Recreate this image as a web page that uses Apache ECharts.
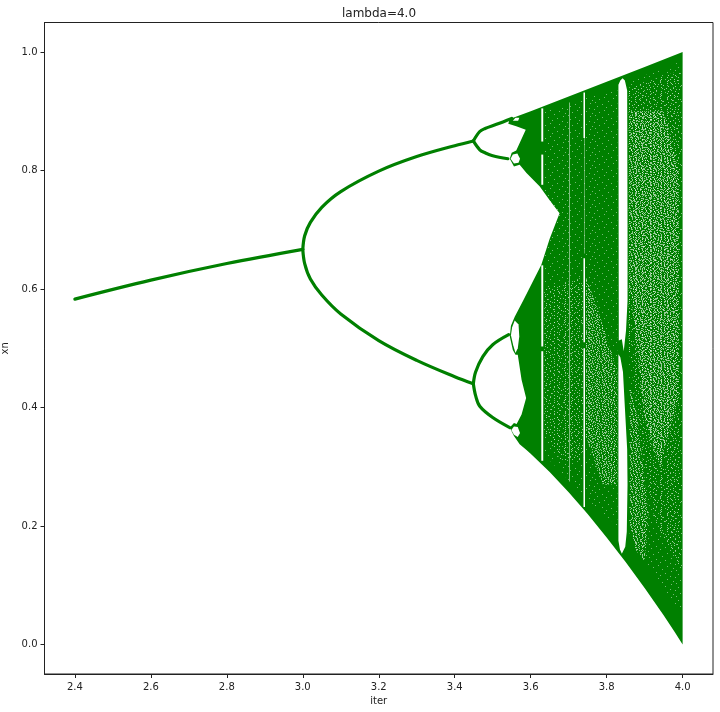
<!DOCTYPE html>
<html>
<head>
<meta charset="utf-8">
<style>html,body{margin:0;padding:0;background:#fff}#c{width:720px;height:712px}</style>
<script src="https://cdn.jsdelivr.net/npm/echarts@6/dist/echarts.min.js"></script>
</head>
<body>
<div id="c"></div>
<script>
// Values: [iter, xn]
const xTicks = [2.4, 2.6, 2.8, 3.0, 3.2, 3.4, 3.6, 3.8, 4.0];
const yTicks = [0, 0.2, 0.4, 0.6, 0.8, 1.0];

const stem = [[2.4,.583],[2.6,.615],[2.8,.643],[3.0,.667]];
const forkUpper = [[3.0,.667],[3.005,.69],[3.02,.7125],[3.05,.738],[3.1,.7645],[3.2,.799],[3.3,.8236],[3.4,.842],[3.449,.85]];
const forkLower = [[3.0,.667],[3.005,.643],[3.02,.617],[3.05,.59],[3.1,.558],[3.2,.513],[3.3,.4796],[3.4,.452],[3.449,.44]];
const lensTopOuter = [[3.449,.85],[3.466,.866],[3.48,.871],[3.51,.878],[3.55,.888]];
const lensTopInner = [[3.449,.85],[3.466,.835],[3.48,.83],[3.5,.825],[3.54,.82]];
const lensLowUpper = [[3.449,.44],[3.455,.46],[3.474,.486],[3.5,.506],[3.542,.523]];
const lensLowLower = [[3.449,.44],[3.455,.42],[3.466,.402],[3.5,.383],[3.545,.366]];

// Outline of the chaotic region
const chaosOutline = [
  [3.545,.887],[3.6,.9],[3.7,.925],[3.8,.95],[3.9,.975],[4.0,1.0],[4.0,0],
  [3.98,.02],[3.95,.049],[3.9,.095],[3.85,.139],[3.8,.1805],[3.75,.22],[3.7,.257],[3.65,.291],[3.6,.322],
  [3.589,.328],[3.571,.338],[3.556,.352],[3.545,.366],[3.556,.374],[3.563,.372],[3.576,.388],[3.588,.416],
  [3.576,.447],[3.566,.489],[3.56,.489],[3.553,.497],[3.545,.52],[3.548,.538],[3.558,.553],[3.58,.58],[3.628,.641],[3.65,.685],
  [3.676,.728],[3.65,.75],[3.624,.773],[3.589,.796],[3.571,.81],[3.556,.807],[3.545,.82],[3.55,.83],[3.562,.834],
  [3.587,.869],[3.562,.875],[3.541,.879]
];

// White holes and periodic windows
const holeTop = [[3.553,.884],[3.56,.889],[3.57,.889],[3.567,.884]];
const holeUpper = [[3.547,.82],[3.553,.827],[3.565,.829],[3.572,.82],[3.568,.813],[3.556,.812]];
const holeMidUpper = [[3.548,.522],[3.551,.535],[3.558,.547],[3.568,.54],[3.57,.52],[3.566,.5],[3.56,.492],[3.554,.505]];
const holeMidLower = [[3.549,.362],[3.556,.368],[3.566,.367],[3.572,.357],[3.566,.35],[3.556,.354]];
const win363a = [[3.628,.905],[3.633,.905],[3.633,.849],[3.628,.849]];
const win363b = [[3.628,.827],[3.633,.827],[3.633,.776],[3.628,.776]];
const win363c = [[3.628,.64],[3.633,.64],[3.633,.503],[3.628,.503]];
const win363d = [[3.628,.495],[3.633,.495],[3.633,.31],[3.628,.31]];
const win374a = [[3.739,.932],[3.743,.932],[3.743,.855],[3.739,.855]];
const win374b = [[3.7405,.855],[3.742,.855],[3.742,.66],[3.7405,.66]];
const win374c = [[3.739,.652],[3.743,.652],[3.743,.51],[3.739,.51]];
const win374d = [[3.739,.5],[3.743,.5],[3.743,.232],[3.739,.232]];
const win370 = [[3.7015,.915],[3.7035,.915],[3.7035,.275],[3.7015,.275]];
const win384a = [[3.831,.945],[3.836,.952],[3.842,.956],[3.848,.952],[3.854,.935],[3.855,.7],[3.855,.58],[3.851,.53],[3.845,.495],[3.84,.515],[3.832,.513]];
const win384b = [[3.831,.49],[3.836,.485],[3.843,.46],[3.848,.4],[3.854,.33],[3.855,.27],[3.853,.19],[3.849,.165],[3.84,.153],[3.835,.16],[3.831,.175]];

// Areas where the points thin out
const thinRightAll = [[3.858,.95],[3.998,.985],[3.998,.05],[3.95,.09],[3.9,.14],[3.858,.19]];
const thinRight = [[3.858,.94],[3.998,.97],[3.998,.12],[3.97,.16],[3.93,.2],[3.9,.3],[3.875,.42],[3.858,.5]];
const thinRightHeavy = [[3.862,.9],[3.95,.9],[3.99,.8],[3.99,.42],[3.94,.3],[3.9,.38],[3.88,.5],[3.862,.6]];
const thinWedgeLow = [[3.862,.44],[3.882,.38],[3.91,.22],[3.9,.14],[3.875,.16],[3.862,.2]];
const thinCentreAll = [[3.636,.9],[3.828,.94],[3.828,.2],[3.74,.25],[3.636,.32]];
const thinDiagonal = [[3.746,.62],[3.78,.56],[3.828,.46],[3.828,.27],[3.79,.27],[3.746,.35]];
const thinMiddle = [[3.636,.6],[3.738,.62],[3.738,.31],[3.68,.31],[3.636,.36]];

const GREEN = '#008000';
const regionList = [
  [chaosOutline, 'solid'],
  [thinCentreAll, 'faint'], [thinRightAll, 'faint'],
  [thinMiddle, 'light'], [thinDiagonal, 'light'], [thinDiagonal, 'coarse'],
  [thinRight, 'light'], [thinRightHeavy, 'alt'], [thinRightHeavy, 'coarse'], [thinWedgeLow, 'alt'], [thinWedgeLow, 'coarse'],
  [holeTop, 'white'], [holeUpper, 'white'], [holeMidUpper, 'white'], [holeMidLower, 'white'],
  [win363a, 'white'], [win363b, 'white'], [win363c, 'white'], [win363d, 'white'],
  [win370, 'pale'],
  [win374a, 'white'], [win374b, 'pale'], [win374c, 'white'], [win374d, 'white'],
  [win384a, 'white'], [win384b, 'white']
];

// Hand-drawn speckle textures (style only), '#' = white pixel
const tileHeavy = [
  '#...#.....#..#.....#...#....#.#.',
  '..#....#........#.....#..#......',
  '.....#....#..#.....#......#...#.',
  '#..#...#.....#..#.....#.......#.',
  '.......#..#.....#..#.....#.#....',
  '..#.#.....#..#........#.....#..#',
  '#.....#.......#..#..#....#......',
  '...#.....#.#.....#......#...#.#.',
  '.#....#.....#..#....#.......#...',
  '.....#..#.......#.#...#.#.....#.',
  '#..#.....#..#.........#....#....',
  '......#.....#...#..#.....#...#..',
  '..#.#....#.....#.....#.#......#.',
  '#.......#..#.#....#......#..#...',
  '...#..#.........#...#.......#..#',
  '.#.......#.#..#.....#..#.#......'
];
const tileLight = [
  '.....#..............#.......#...',
  '..#..........#.............#....',
  '..........#.........#...........',
  '......#.......#............#...#',
  '#..............#.....#..........',
  '.........#.............#........',
  '...#.............#..........#...',
  '..........#..........#..........',
  '.#............#...........#.....',
  '.......#................#.....#.',
  '................#...............',
  '...#......#..........#......#...',
  '.............#..................',
  '#.....#..............#.....#....',
  '..........#....#................',
  '..#..................#........#.'
];
const tileFaint = [
  '........#.......................',
  '.................#..............',
  '...#.........................#..',
  '............#...................',
  '......................#.........',
  '#...............................',
  '..........#.................#...',
  '...................#............',
  '.....#..........................',
  '.........................#......',
  '..............#.................',
  '.#..............................',
  '.......................#........',
  '.........#...................#..',
  '..................#.............',
  '....#...........................'
];
function makeTile(rows, w, h, alpha) {
  const cv = document.createElement('canvas');
  cv.width = w; cv.height = h;
  const g = cv.getContext('2d');
  g.fillStyle = 'rgba(255,255,255,' + alpha + ')';
  for (let y = 0; y < h; y++) for (let x = 0; x < w; x++) if (rows[y][x] === '#') g.fillRect(x, y, 1, 1);
  return { image: cv, repeat: 'repeat' };
}
const fills = {
  solid: GREEN, white: '#ffffff', pale: 'rgba(255,255,255,0.65)',
  coarse: makeTile(tileHeavy, 31, 13, 0.55),
  alt: makeTile(tileLight, 23, 11, 0.65),
  light: makeTile(tileLight, 32, 16, 0.6),
  faint: makeTile(tileFaint, 27, 13, 0.45)
};

const branchSeries = [stem, forkUpper, forkLower, lensTopOuter, lensTopInner, lensLowUpper, lensLowLower].map(d => ({
  type: 'line', data: d, showSymbol: false, silent: true, z: 5, animation: false,
  smooth: 0.35,
  lineStyle: { color: GREEN, width: 3.2, cap: 'round', join: 'round' }
}));

const chart = echarts.init(document.getElementById('c'), null, { renderer: 'canvas' });
const axisText = { color: '#222', fontSize: 10, fontFamily: 'DejaVu Sans' };
chart.setOption({
  animation: false,
  backgroundColor: '#fff',
  title: {
    text: 'lambda=4.0', left: 374, top: 3, textAlign: 'center',
    textStyle: { fontFamily: 'DejaVu Sans', fontSize: 12, fontWeight: 'normal', color: '#222' }
  },
  grid: { left: 44.5, right: 7, top: 22.5, bottom: 38, containLabel: false, outerBoundsMode: 'none', show: true, borderColor: '#222', borderWidth: 1 },
  xAxis: {
    type: 'value', min: 2.32, max: 4.08, name: 'iter', nameLocation: 'middle', nameGap: 22,
    nameTextStyle: axisText, splitLine: { show: false },
    axisLine: { show: true, onZero: false, lineStyle: { color: '#222', width: 1 } },
    axisTick: { show: true, length: 4, customValues: xTicks, lineStyle: { color: '#222' } },
    axisLabel: { ...axisText, margin: 8, customValues: xTicks, formatter: v => v.toFixed(1) }
  },
  yAxis: {
    type: 'value', min: -0.05, max: 1.05, name: 'xn', nameLocation: 'middle', nameGap: 24,
    nameTextStyle: axisText, splitLine: { show: false },
    axisLine: { show: true, onZero: false, lineStyle: { color: '#222', width: 1 } },
    axisTick: { show: true, length: 4, customValues: yTicks, lineStyle: { color: '#222' } },
    axisLabel: { ...axisText, margin: 7, customValues: yTicks, formatter: v => v.toFixed(1) }
  },
  series: [{
    type: 'custom', silent: true, z: 2, animation: false, clip: false,
    coordinateSystem: 'cartesian2d',
    data: regionList.map((r, i) => [i]),
    encode: { x: -1, y: -1 },
    renderItem: (params, api) => {
      const region = regionList[api.value(0)];
      return {
        type: 'polygon',
        shape: { points: region[0].map(p => api.coord(p)) },
        style: { fill: fills[region[1]], stroke: null }
      };
    }
  }, ...branchSeries]
});
</script>
</body>
</html>
